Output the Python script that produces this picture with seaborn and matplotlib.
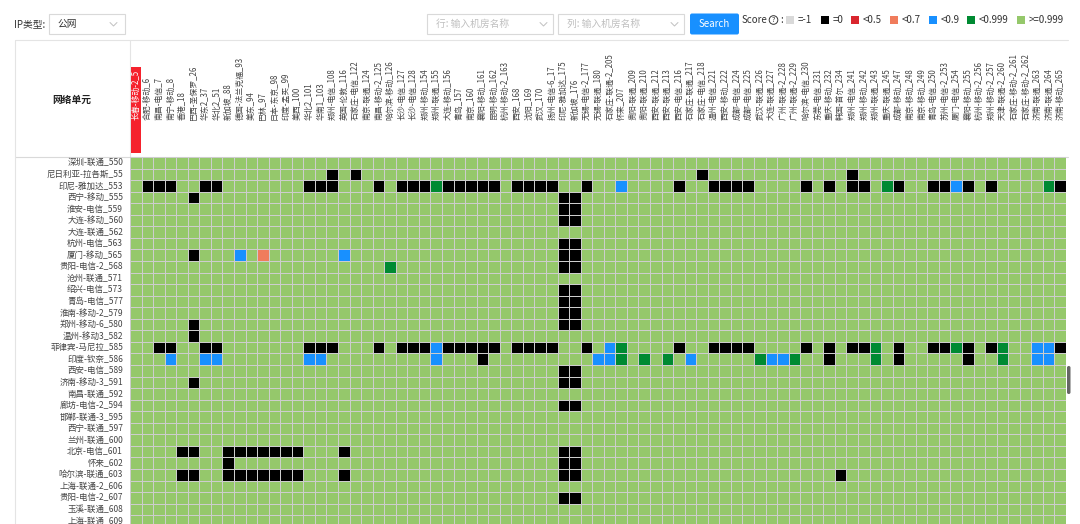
import numpy as np
import pandas as pd
import matplotlib
matplotlib.use("Agg")
import matplotlib.pyplot as plt
from matplotlib.colors import ListedColormap, BoundaryNorm
from matplotlib.patches import Rectangle, FancyBboxPatch, Circle
import seaborn as sns

sns.set_style("white")
plt.rcParams["font.family"] = ["Noto Sans CJK SC", "DejaVu Sans"]

# 行: 网络单元
row_labels = ["深圳-联通_550", "尼日利亚-拉各斯_55", "印尼-雅加达_553", "西宁-移动_555", "淮安-电信_559",
              "大连-移动_560", "大连-联通_562", "杭州-电信_563", "厦门-移动_565", "贵阳-电信-2_568",
              "沧州-联通_571", "绍兴-电信_573", "青岛-电信_577", "淮南-移动-2_579", "郑州-移动-6_580",
              "温州-移动3_582", "菲律宾-马尼拉_585", "印度-钦奈_586", "西安-电信_589", "济南-移动-3_591",
              "南昌-联通_592", "廊坊-电信-2_594", "邯郸-联通-3_595", "西宁-联通_597", "兰州-联通_600",
              "北京-电信_601", "怀来_602", "哈尔滨-联通_603", "上海-联通-2_606", "贵阳-电信-2_607",
              "玉溪-联通_608", "上海-联通_609"]

# 列: 机房
col_labels = ["长春-移动-2_5", "合肥-移动_6", "南昌-电信_7", "南宁-移动_8", "香港_18", "巴西-圣保罗_26",
              "华东2_37", "华北2_51", "新加坡_88", "德国-法兰克福_93", "美东_94", "巴林_97", "日本-东京_98",
              "印度-孟买_99", "美西_100", "华北2_101", "华南1_103", "郑州-电信_108", "英国-伦敦_116",
              "石家庄-电信_122", "南京-联通_124", "南昌-移动-2_125", "哈尔滨-移动_126", "长沙-电信_127",
              "长沙-电信_128", "郑州-移动_154", "郑州-联通_155", "大连-移动_156", "青岛_157", "南京_160",
              "襄阳-移动_161", "昆明-移动_162", "杭州-移动-2_163", "西安_168", "沈阳_169", "武汉_170",
              "扬州-电信-6_17", "印尼-雅加达_175", "新加坡_176", "无锡-电信-2_177", "无锡-联通_180",
              "石家庄-联通-2_205", "怀来_207", "贵阳-联通_209", "贵阳-联通_210", "西安-联通_212",
              "西安-联通_213", "西安-电信_216", "石家庄-联通_217", "石家庄-电信_218", "温州-电信_221",
              "西安-移动_222", "成都-电信_224", "成都-电信_225", "武汉-联通_226", "大连-联通_227",
              "广州-联通-2_228", "广州-联通-2_229", "哈尔滨-电信_230", "东莞-电信_231", "重庆-移动_232",
              "韩国-首尔_234", "郑州-电信_241", "郑州-移动_242", "郑州-联通_243", "重庆-联通_245",
              "成都-移动_247", "南京-移动_248", "南京-移动_249", "青岛-电信_250", "苏州-电信-2_253",
              "厦门-电信_254", "襄阳-移动_255", "杭州-移动-2_256", "郑州-移动-2_257", "天津-联通-2_260",
              "石家庄-移动-2_261", "石家庄-移动-2_262", "济南-联通_263", "济南-联通_264", "济南-移动_265"]

# score 档位
legend_labels = ["=-1", "=0", "<0.5", "<0.7", "<0.9", "<0.999", ">=0.999"]
legend_colors = ["#d9d9d9", "#000000", "#d9262e", "#f07c5c", "#1890ff", "#008a32", "#95c86b"]
bounds = [-1.5, -0.5, 0.001, 0.5, 0.7, 0.9, 0.999, 1.5]

default_score = 1.0
# 非满分的格子: 行号 -> 列号
score_0 = {
    1: [17, 19, 49, 62],
    2: [1, 2, 3, 6, 7, 15, 16, 17, 21, 23, 24, 25, 27, 28, 29, 30, 31, 33, 34, 35, 36, 39, 47, 50,
        51, 52, 53, 58, 60, 62, 63, 66, 69, 70, 72, 74, 80],
    3: [5, 37, 38], 4: [37, 38], 5: [37, 38], 7: [37, 38], 8: [5, 37, 38], 9: [37, 38],
    11: [37, 38], 12: [37, 38], 13: [37, 38], 14: [5, 37, 38], 15: [5],
    16: [2, 3, 6, 7, 15, 16, 17, 21, 23, 24, 25, 27, 28, 29, 30, 31, 33, 34, 35, 36, 39, 47, 50,
         51, 52, 53, 58, 60, 62, 63, 66, 69, 70, 72, 74, 80],
    17: [30, 60, 66, 72],
    18: [37, 38], 19: [5, 37, 38], 21: [37, 38],
    25: [4, 5, 8, 9, 10, 11, 12, 13, 14, 18, 37, 38],
    26: [8, 37, 38],
    27: [4, 5, 8, 9, 10, 11, 12, 13, 14, 18, 37, 38, 61],
    29: [37, 38],
}
score_07 = {8: [11]}
score_09 = {
    2: [42, 71],
    8: [9, 18],
    16: [26, 41, 78, 79],
    17: [3, 6, 7, 15, 16, 26, 40, 41, 48, 55, 56, 78, 79],
}
score_0999 = {
    2: [26, 65, 79],
    9: [22],
    16: [42, 64, 71, 75],
    17: [42, 44, 46, 54, 57, 64, 75],
}

scores = pd.DataFrame(default_score, index=row_labels, columns=col_labels)
for cells, val in [(score_0999, 0.995), (score_09, 0.85), (score_07, 0.65), (score_0, 0.0)]:
    for r, cols in cells.items():
        for c in cols:
            scores.iat[r, c] = val

W, H = 1080, 524
fig = plt.figure(figsize=(W / 100, H / 100), dpi=100)
fig.patch.set_facecolor("white")

# 背景 / 控件层 (像素坐标)
ui = fig.add_axes([0, 0, 1, 1], zorder=0)
ui.set_xlim(0, W)
ui.set_ylim(H, 0)
ui.axis("off")

# 表格区域
gx0, gx1, gy0 = 130, 1066, 157
cell = (gx1 - gx0) / len(col_labels)
ax = fig.add_axes([gx0 / W, 0, (gx1 - gx0) / W, (H - gy0) / H], zorder=2)
cmap = ListedColormap(legend_colors)
norm = BoundaryNorm(bounds, cmap.N)
sns.heatmap(scores, ax=ax, cmap=cmap, norm=norm, cbar=False, linewidths=0.6, linecolor="#cdcdcd",
            xticklabels=False, yticklabels=row_labels)
ax.set_ylim((H - gy0) / cell, 0)
ax.tick_params(axis="y", length=0, pad=5, labelsize=6.1, labelcolor="#444444", rotation=0)
ax.set_xlabel("")
ax.set_ylabel("")

# 列标题
hd = fig.add_axes([gx0 / W, (H - gy0) / H, (gx1 - gx0) / W, (gy0 - 40) / H], zorder=2)
hd.set_xlim(0, len(col_labels))
hd.set_ylim(0, gy0 - 40)
hd.axis("off")
hd.add_patch(Rectangle((0.05, 4), 0.9, 86, color="#f5222d", lw=0))
for i, lab in enumerate(col_labels):
    hd.text(i + 0.5, 37, lab, rotation=90, ha="center", va="bottom", fontsize=5.7,
            color="white" if i == 0 else "#444444")

# 表格边框
ui.plot([15, 1068], [40, 40], color="#e4e4e4", lw=0.8)
ui.plot([15, 1068], [gy0, gy0], color="#d9d9d9", lw=0.8)
ui.plot([15, 15], [40, H], color="#e4e4e4", lw=0.8)
ui.plot([gx0, gx0], [40, gy0], color="#e4e4e4", lw=0.8)
ui.text(72, 100, "网络单元", ha="center", va="center", fontsize=7, fontweight="bold", color="#222222")

# 滚动条
ui.add_patch(FancyBboxPatch((1067, 366), 3.5, 28, boxstyle="round,pad=0,rounding_size=1.7",
                            color="#666666", lw=0))
ui.add_patch(FancyBboxPatch((131, 517.5), 50, 4, boxstyle="round,pad=0,rounding_size=2",
                            color="#888888", lw=0))

# 顶部控件
ui.text(14, 24, "IP类型:", ha="left", va="center", fontsize=7, color="#333333")
ui.add_patch(Rectangle((49, 14), 76, 20, fill=False, ec="#d9d9d9", lw=0.8))
ui.text(57, 24, "公网", ha="left", va="center", fontsize=7, color="#333333")
ui.plot([110, 113.5, 117], [22.5, 26, 22.5], color="#c0c0c0", lw=0.7)
for x0, ph in [(427, "行: 输入机房名称"), (558, "列: 输入机房名称")]:
    ui.add_patch(Rectangle((x0, 14), 126, 20, fill=False, ec="#d9d9d9", lw=0.8))
    ui.text(x0 + 9, 24, ph, ha="left", va="center", fontsize=7, color="#bfbfbf")
    ui.plot([x0 + 113, x0 + 116.5, x0 + 120], [22.5, 26, 22.5], color="#c0c0c0", lw=0.7)
ui.add_patch(FancyBboxPatch((690, 13.5), 49, 21, boxstyle="round,pad=0,rounding_size=2",
                            color="#1890ff", lw=0))
ui.text(714.5, 24, "Search", ha="center", va="center", fontsize=7, color="white")

ui.text(742, 20, "Score", ha="left", va="center", fontsize=7, color="#333333")
ui.add_patch(Circle((773.5, 20), 4.3, fill=False, ec="#333333", lw=0.7))
ui.text(773.5, 20.3, "?", ha="center", va="center", fontsize=5.2, color="#333333")
ui.text(780, 20, ":", ha="left", va="center", fontsize=7, color="#333333")
lx = [786, 821, 851, 890, 929, 967, 1017]
for x0, lab, colr in zip(lx, legend_labels, legend_colors):
    ui.add_patch(Rectangle((x0, 16), 7.5, 7.5, color=colr, lw=0))
    ui.text(x0 + 12, 20, lab, ha="left", va="center", fontsize=7, color="#333333")

fig.savefig("out.png", dpi=100)
